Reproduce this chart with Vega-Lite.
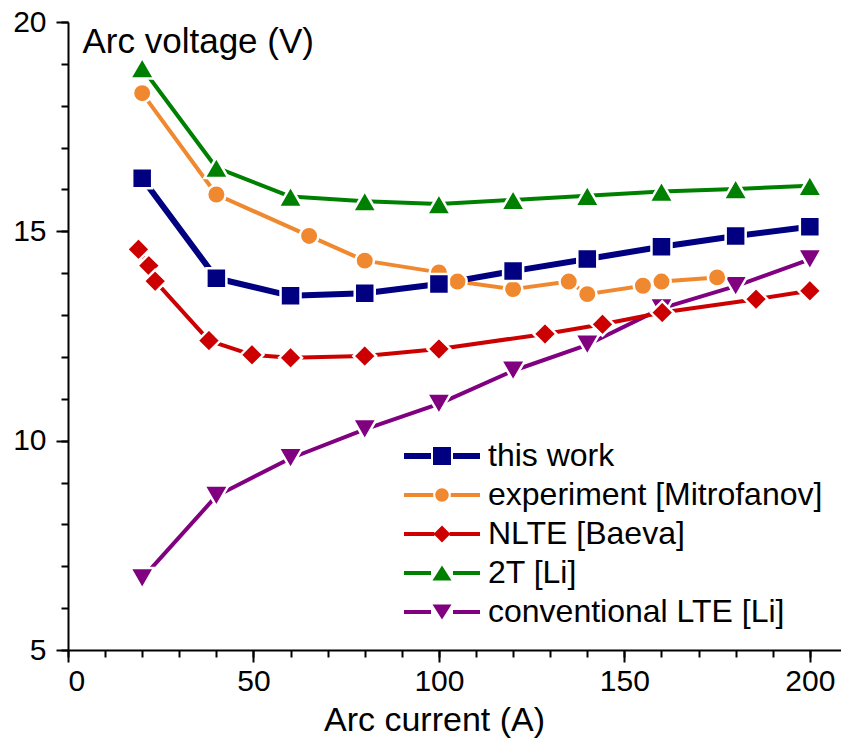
{
  "$schema": "https://vega.github.io/schema/vega-lite/v6.json",
  "width": 773,
  "height": 628,
  "autosize": {"type": "none"},
  "padding": {"left": 68, "top": 22, "right": 0, "bottom": 90},
  "background": "white",
  "config": {
    "view": {"stroke": null},
    "font": "Liberation Sans",
    "axis": {
      "grid": false,
      "domainColor": "black",
      "domainWidth": 2,
      "tickColor": "black",
      "tickWidth": 2,
      "labelColor": "black",
      "labelFont": "Liberation Sans",
      "labelFontSize": 30,
      "titleColor": "black",
      "titleFont": "Liberation Sans",
      "titleFontSize": 34,
      "titleFontWeight": "normal"
    }
  },
  "data": {
    "values": [
      {"series": "conventional LTE [Li]", "I": 20, "U": 6.71},
      {"series": "conventional LTE [Li]", "I": 40, "U": 8.68},
      {"series": "conventional LTE [Li]", "I": 60, "U": 9.58},
      {"series": "conventional LTE [Li]", "I": 80, "U": 10.27},
      {"series": "conventional LTE [Li]", "I": 100, "U": 10.88},
      {"series": "conventional LTE [Li]", "I": 120, "U": 11.67},
      {"series": "conventional LTE [Li]", "I": 140, "U": 12.29},
      {"series": "conventional LTE [Li]", "I": 160, "U": 13.16},
      {"series": "conventional LTE [Li]", "I": 180, "U": 13.69},
      {"series": "conventional LTE [Li]", "I": 200, "U": 14.33},
      {"series": "2T [Li]", "I": 20, "U": 18.9},
      {"series": "2T [Li]", "I": 40, "U": 16.52},
      {"series": "2T [Li]", "I": 60, "U": 15.83},
      {"series": "2T [Li]", "I": 80, "U": 15.72},
      {"series": "2T [Li]", "I": 100, "U": 15.65},
      {"series": "2T [Li]", "I": 120, "U": 15.75},
      {"series": "2T [Li]", "I": 140, "U": 15.85},
      {"series": "2T [Li]", "I": 160, "U": 15.95},
      {"series": "2T [Li]", "I": 180, "U": 16.01},
      {"series": "2T [Li]", "I": 200, "U": 16.09},
      {"series": "NLTE [Baeva]", "I": 19, "U": 14.57},
      {"series": "NLTE [Baeva]", "I": 21.8, "U": 14.18},
      {"series": "NLTE [Baeva]", "I": 23.5, "U": 13.81},
      {"series": "NLTE [Baeva]", "I": 38, "U": 12.39},
      {"series": "NLTE [Baeva]", "I": 49.6, "U": 12.05},
      {"series": "NLTE [Baeva]", "I": 60, "U": 11.98},
      {"series": "NLTE [Baeva]", "I": 80, "U": 12.02},
      {"series": "NLTE [Baeva]", "I": 100, "U": 12.19},
      {"series": "NLTE [Baeva]", "I": 128.6, "U": 12.55},
      {"series": "NLTE [Baeva]", "I": 144.1, "U": 12.78},
      {"series": "NLTE [Baeva]", "I": 160.2, "U": 13.06},
      {"series": "NLTE [Baeva]", "I": 185.5, "U": 13.38},
      {"series": "NLTE [Baeva]", "I": 200, "U": 13.58},
      {"series": "experiment [Mitrofanov]", "I": 20, "U": 18.3},
      {"series": "experiment [Mitrofanov]", "I": 40, "U": 15.88},
      {"series": "experiment [Mitrofanov]", "I": 65, "U": 14.89},
      {"series": "experiment [Mitrofanov]", "I": 80, "U": 14.3},
      {"series": "experiment [Mitrofanov]", "I": 100, "U": 14.02},
      {"series": "experiment [Mitrofanov]", "I": 105, "U": 13.8},
      {"series": "experiment [Mitrofanov]", "I": 120, "U": 13.62},
      {"series": "experiment [Mitrofanov]", "I": 135, "U": 13.8},
      {"series": "experiment [Mitrofanov]", "I": 140, "U": 13.5},
      {"series": "experiment [Mitrofanov]", "I": 155, "U": 13.7},
      {"series": "experiment [Mitrofanov]", "I": 160, "U": 13.8},
      {"series": "experiment [Mitrofanov]", "I": 175, "U": 13.9},
      {"series": "this work", "I": 20, "U": 16.27},
      {"series": "this work", "I": 40, "U": 13.88},
      {"series": "this work", "I": 60, "U": 13.46},
      {"series": "this work", "I": 80, "U": 13.52},
      {"series": "this work", "I": 100, "U": 13.74},
      {"series": "this work", "I": 120, "U": 14.05},
      {"series": "this work", "I": 140, "U": 14.34},
      {"series": "this work", "I": 160, "U": 14.63},
      {"series": "this work", "I": 180, "U": 14.89},
      {"series": "this work", "I": 200, "U": 15.11}
    ]
  },
  "resolve": {"axis": {"x": "independent", "y": "independent"}},
  "layer": [
    {
      "description": "Key: invisible points whose shape scale holds the line-and-marker glyphs of the legend",
      "mark": {"type": "point", "filled": true, "opacity": 0, "size": 4},
      "encoding": {
        "x": {
          "field": "I", "type": "quantitative",
          "scale": {"domain": [0, 208.4], "nice": false, "zero": false},
          "axis": {
            "orient": "bottom",
            "values": [0, 50, 100, 150, 200],
            "tickSize": 12,
            "labelPadding": 4,
            "title": "Arc current (A)",
            "titleX": 366,
            "titleY": 80,
            "titleAlign": "center",
            "titleBaseline": "alphabetic"
          }
        },
        "y": {
          "field": "U", "type": "quantitative",
          "scale": {"domain": [5, 20], "nice": false, "zero": false},
          "axis": {
            "orient": "left",
            "values": [5, 10, 15, 20],
            "tickSize": 12,
            "labelPadding": 10,
            "title": "Arc voltage (V)",
            "titleFontSize": 35,
            "titleAngle": 0,
            "titleX": 14,
            "titleY": 30,
            "titleAlign": "left",
            "titleBaseline": "alphabetic"
          }
        },
        "color": {
          "field": "series", "type": "nominal",
          "scale": {
            "domain": ["this work", "experiment [Mitrofanov]", "NLTE [Baeva]", "2T [Li]", "conventional LTE [Li]"],
            "range": ["#000080", "#F0882F", "#CC0000", "#008000", "#800080"]
          },
          "legend": {
            "title": null,
            "orient": "none",
            "legendX": 336,
            "legendY": 418,
            "symbolSize": 1024,
            "symbolStrokeWidth": 0,
            "symbolOpacity": 1,
            "rowPadding": 7,
            "labelOffset": 52,
            "labelFont": "Liberation Sans",
            "labelFontSize": 32,
            "labelColor": "black",
            "labelLimit": 0
          }
        },
        "shape": {
          "field": "series", "type": "nominal",
          "scale": {
            "domain": ["this work", "experiment [Mitrofanov]", "NLTE [Baeva]", "2T [Li]", "conventional LTE [Li]"],
            "range": [
              "M-1,-0.1875H0.6875V0.1875H-1Z M2.0625,-0.1875H3.75V0.1875H2.0625Z M0.8125,-0.5625H1.9375V0.5625H0.8125Z",
              "M-1,-0.125H0.83V0.125H-1Z M1.92,-0.125H3.75V0.125H1.92Z M0.955,0A0.42,0.42,0,1,0,1.795,0A0.42,0.42,0,1,0,0.955,0Z",
              "M-1,-0.125H0.9V0.125H-1Z M1.85,-0.125H3.75V0.125H1.85Z M1.375,-0.525L1.9,0L1.375,0.525L0.85,0Z",
              "M-1,-0.125H0.6875V0.125H-1Z M2.0625,-0.125H3.75V0.125H2.0625Z M1.375,-0.475L1.969,0.475L0.781,0.475Z",
              "M-1,-0.125H0.6875V0.125H-1Z M2.0625,-0.125H3.75V0.125H2.0625Z M1.375,0.475L1.969,-0.475L0.781,-0.475Z"
            ]
          },
          "legend": {
            "title": null,
            "orient": "none",
            "legendX": 336,
            "legendY": 418,
            "symbolSize": 1024,
            "symbolStrokeWidth": 0,
            "symbolOpacity": 1,
            "rowPadding": 7,
            "labelOffset": 52,
            "labelFont": "Liberation Sans",
            "labelFontSize": 32,
            "labelColor": "black",
            "labelLimit": 0
          }
        }
      }
    },
    {
      "transform": [{"filter": "datum.series !== 'this work'"}],
      "mark": {"type": "line", "strokeWidth": 4, "strokeCap": "round", "strokeJoin": "round"},
      "encoding": {
        "x": {
          "field": "I", "type": "quantitative",
          "axis": {
            "orient": "bottom",
            "values": [0, 10, 20, 30, 40, 50, 60, 70, 80, 90, 100, 110, 120, 130, 140, 150, 160, 170, 180, 190, 200],
            "tickSize": 7,
            "labels": false,
            "domain": false,
            "title": null
          }
        },
        "y": {
          "field": "U", "type": "quantitative",
          "axis": {
            "orient": "left",
            "values": [5, 6, 7, 8, 9, 10, 11, 12, 13, 14, 15, 16, 17, 18, 19, 20],
            "tickSize": 7,
            "labels": false,
            "domain": false,
            "title": null
          }
        },
        "color": {"field": "series", "type": "nominal"}
      }
    },
    {
      "transform": [{"filter": "datum.series === 'this work'"}],
      "mark": {"type": "line", "strokeWidth": 6, "strokeCap": "round", "strokeJoin": "round"},
      "encoding": {
        "x": {"field": "I", "type": "quantitative", "axis": null},
        "y": {"field": "U", "type": "quantitative", "axis": null},
        "color": {"field": "series", "type": "nominal"}
      }
    },
    {
      "transform": [{"filter": "datum.series === 'conventional LTE [Li]'"}],
      "mark": {"type": "point", "shape": "triangle-down", "size": 580, "filled": true, "opacity": 1, "stroke": "white", "strokeWidth": 2.5},
      "encoding": {
        "x": {"field": "I", "type": "quantitative", "axis": null},
        "y": {"field": "U", "type": "quantitative", "axis": null},
        "color": {"field": "series", "type": "nominal"}
      }
    },
    {
      "transform": [{"filter": "datum.series === '2T [Li]'"}],
      "mark": {"type": "point", "shape": "triangle-up", "size": 580, "filled": true, "opacity": 1, "stroke": "white", "strokeWidth": 2.5},
      "encoding": {
        "x": {"field": "I", "type": "quantitative", "axis": null},
        "y": {"field": "U", "type": "quantitative", "axis": null},
        "color": {"field": "series", "type": "nominal"}
      }
    },
    {
      "transform": [{"filter": "datum.series === 'NLTE [Baeva]'"}],
      "mark": {"type": "point", "shape": "diamond", "size": 520, "filled": true, "opacity": 1, "stroke": "white", "strokeWidth": 2.5},
      "encoding": {
        "x": {"field": "I", "type": "quantitative", "axis": null},
        "y": {"field": "U", "type": "quantitative", "axis": null},
        "color": {"field": "series", "type": "nominal"}
      }
    },
    {
      "transform": [{"filter": "datum.series === 'experiment [Mitrofanov]'"}],
      "mark": {"type": "point", "shape": "circle", "size": 340, "filled": true, "opacity": 1, "stroke": "white", "strokeWidth": 2.5},
      "encoding": {
        "x": {"field": "I", "type": "quantitative", "axis": null},
        "y": {"field": "U", "type": "quantitative", "axis": null},
        "color": {"field": "series", "type": "nominal"}
      }
    },
    {
      "transform": [{"filter": "datum.series === 'this work'"}],
      "mark": {"type": "point", "shape": "square", "size": 400, "filled": true, "opacity": 1, "stroke": "white", "strokeWidth": 2.5},
      "encoding": {
        "x": {"field": "I", "type": "quantitative", "axis": null},
        "y": {"field": "U", "type": "quantitative", "axis": null},
        "color": {"field": "series", "type": "nominal"}
      }
    }
  ]
}
